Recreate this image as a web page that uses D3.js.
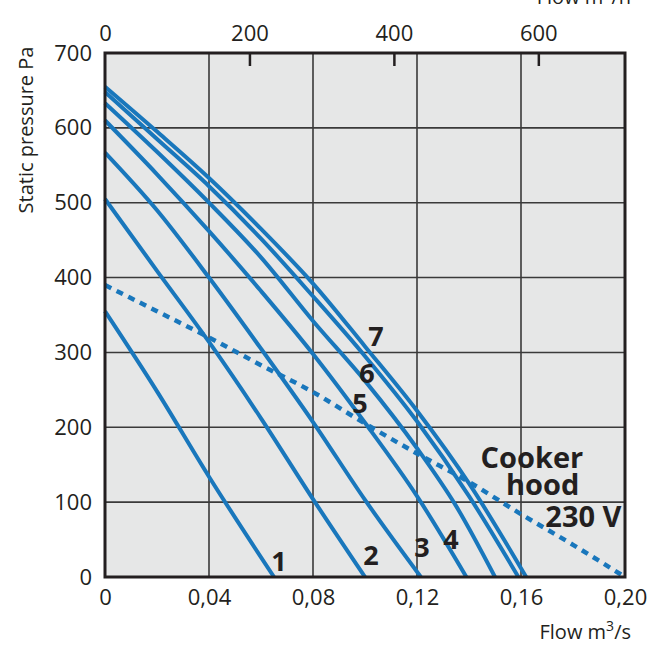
<!DOCTYPE html>
<html>
<head>
<meta charset="utf-8">
<script src="https://cdn.jsdelivr.net/npm/d3@7"></script>
<style>
  body { margin: 0; background: #fff; }
  text { font-family: "Open Sans", sans-serif; fill: #231f20; }
</style>
</head>
<body>
<div id="chart"></div>
<script>
// Axis ticks
const flowTicks = [0, 0.04, 0.08, 0.12, 0.16, 0.20];
const flowTickLabels = ["0", "0,04", "0,08", "0,12", "0,16", "0,20"];
const flowHourTicks = [0, 200, 400, 600];
const pressureTicks = [0, 100, 200, 300, 400, 500, 600, 700];

// Fan curves, [flow m3/s, static pressure Pa]
const curve1 = [[0, 355], [0.02, 248], [0.04, 134], [0.065, 0]];
const curve2 = [[0, 505], [0.02, 409], [0.04, 314], [0.06, 212], [0.08, 104], [0.100, 0]];
const curve3 = [[0, 567], [0.02, 490], [0.04, 400], [0.06, 305], [0.08, 207], [0.10, 103], [0.1215, 0]];
const curve4 = [[0, 610], [0.02, 538], [0.04, 462], [0.06, 382], [0.08, 298], [0.10, 206], [0.12, 108], [0.139, 0]];
const curve5 = [[0, 633], [0.02, 568], [0.04, 500], [0.06, 427], [0.08, 342], [0.10, 262], [0.12, 172], [0.135, 95], [0.150, 0]];
const curve6 = [[0, 648], [0.02, 585], [0.04, 522], [0.06, 452], [0.08, 375], [0.10, 295], [0.12, 208], [0.14, 108], [0.159, 0]];
const curve7 = [[0, 655], [0.02, 595], [0.04, 533], [0.06, 465], [0.08, 392], [0.10, 308], [0.12, 222], [0.14, 125], [0.162, 0]];
const hoodCurve = [[0, 390], [0.02, 355], [0.04, 320], [0.06, 283], [0.08, 247], [0.10, 205], [0.12, 165], [0.14, 127], [0.16, 84], [0.18, 43], [0.20, 0]];

const fanCurves = [curve1, curve2, curve3, curve4, curve5, curve6, curve7];

// Curve number labels, [flow, pressure, text]
const curveLabels = [[0.0669, 21, "1"], [0.1023, 29, "2"], [0.1219, 40, "3"], [0.1331, 50, "4"],
                     [0.0981, 232, "5"], [0.1008, 272, "6"], [0.1042, 322, "7"]];
const hoodLabels = [[0.1642, 159, "Cooker"], [0.1683, 123, "hood"], [0.1840, 81, "230 V"]];

var margin = { top: 53, right: 47, bottom: 78, left: 105 },
    width = 672 - margin.left - margin.right,
    height = 655 - margin.top - margin.bottom;

var svg = d3.select("#chart")
    .append("svg")
    .attr("width", 672)
    .attr("height", 655)
    .append("g")
    .attr("transform", `translate(${margin.left},${margin.top})`);

const x = d3.scaleLinear().domain([0, 0.2]).range([0, width]);
const xh = d3.scaleLinear().domain([0, 720]).range([0, width]);
const y = d3.scaleLinear().domain([0, 700]).range([height, 0]);

// Plot background
svg.append("rect")
    .attr("width", width)
    .attr("height", height)
    .attr("fill", "#e6e7e7");

// Grid
svg.append("g")
    .selectAll("line")
    .data(flowTicks.slice(1, -1))
    .enter().append("line")
    .attr("x1", d => x(d)).attr("x2", d => x(d))
    .attr("y1", 0).attr("y2", height)
    .attr("stroke", "#3a3a3a").attr("stroke-width", 1.6);
svg.append("g")
    .selectAll("line")
    .data(pressureTicks.slice(1, -1))
    .enter().append("line")
    .attr("x1", 0).attr("x2", width)
    .attr("y1", d => y(d)).attr("y2", d => y(d))
    .attr("stroke", "#3a3a3a").attr("stroke-width", 1.6);

// Curves
const line = d3.line()
    .x(d => x(d[0]))
    .y(d => y(d[1]))
    .curve(d3.curveMonotoneX);

svg.append("g")
    .selectAll("path")
    .data(fanCurves)
    .enter().append("path")
    .attr("d", line)
    .attr("fill", "none")
    .attr("stroke", "#1977bc")
    .attr("stroke-width", 4);

svg.append("path")
    .datum(hoodCurve)
    .attr("d", line)
    .attr("fill", "none")
    .attr("stroke", "#1977bc")
    .attr("stroke-width", 4.5)
    .attr("stroke-dasharray", "7,6");

// Frame
svg.append("rect")
    .attr("width", width)
    .attr("height", height)
    .attr("fill", "none")
    .attr("stroke", "#231f20")
    .attr("stroke-width", 3);

// Bottom axis
const xAxis = svg.append("g")
    .attr("transform", `translate(0,${height})`)
    .call(d3.axisBottom(x).tickValues(flowTicks).tickSize(0).tickPadding(12)
        .tickFormat((d, i) => flowTickLabels[i]));
xAxis.select(".domain").remove();
xAxis.selectAll("text")
    .style("font-family", "'Open Sans', sans-serif")
    .style("font-size", "22px")
    .attr("fill", "#231f20");

// Left axis
const yAxis = svg.append("g")
    .call(d3.axisLeft(y).tickValues(pressureTicks).tickSize(0).tickPadding(13));
yAxis.select(".domain").remove();
yAxis.selectAll("text")
    .style("font-family", "'Open Sans', sans-serif")
    .style("font-size", "22px")
    .attr("fill", "#231f20");

// Top axis (m3/h)
const topAxis = svg.append("g")
    .call(d3.axisTop(xh).tickValues(flowHourTicks).tickSize(-13).tickPadding(12));
topAxis.select(".domain").remove();
topAxis.selectAll("line")
    .attr("stroke", "#231f20")
    .attr("stroke-width", 2.5);
topAxis.selectAll(".tick").filter(d => d === 0).select("line").remove();
topAxis.selectAll("text")
    .style("font-family", "'Open Sans', sans-serif")
    .style("font-size", "22px")
    .attr("fill", "#231f20");

// Axis titles
svg.append("text")
    .attr("transform", `translate(${26 - margin.left},${130 - margin.top}) rotate(-90)`)
    .attr("text-anchor", "middle")
    .attr("dy", "0.35em")
    .style("font-size", "20px")
    .text("Static pressure Pa");

const bottomTitle = svg.append("text")
    .attr("x", width + 6)
    .attr("y", 639 - margin.top)
    .attr("text-anchor", "end")
    .style("font-size", "20px");
bottomTitle.append("tspan").text("Flow m");
bottomTitle.append("tspan").attr("dy", -8).style("font-size", "14px").text("3");
bottomTitle.append("tspan").attr("dy", 8).text("/s");

const topTitle = svg.append("text")
    .attr("x", width + 6)
    .attr("y", 4 - margin.top)
    .attr("text-anchor", "end")
    .style("font-size", "20px");
topTitle.append("tspan").text("Flow m");
topTitle.append("tspan").attr("dy", -8).style("font-size", "14px").text("3");
topTitle.append("tspan").attr("dy", 8).text("/h");

// Curve labels
svg.append("g")
    .selectAll("text")
    .data(curveLabels)
    .enter().append("text")
    .attr("x", d => x(d[0]))
    .attr("y", d => y(d[1]))
    .attr("text-anchor", "middle")
    .attr("dy", "0.36em")
    .style("font-size", "27px")
    .style("font-weight", "bold")
    .text(d => d[2]);

svg.append("g")
    .selectAll("text")
    .data(hoodLabels)
    .enter().append("text")
    .attr("x", d => x(d[0]))
    .attr("y", d => y(d[1]))
    .attr("text-anchor", "middle")
    .attr("dy", "0.36em")
    .style("font-size", "29px")
    .style("font-weight", "bold")
    .text(d => d[2]);
</script>
</body>
</html>
